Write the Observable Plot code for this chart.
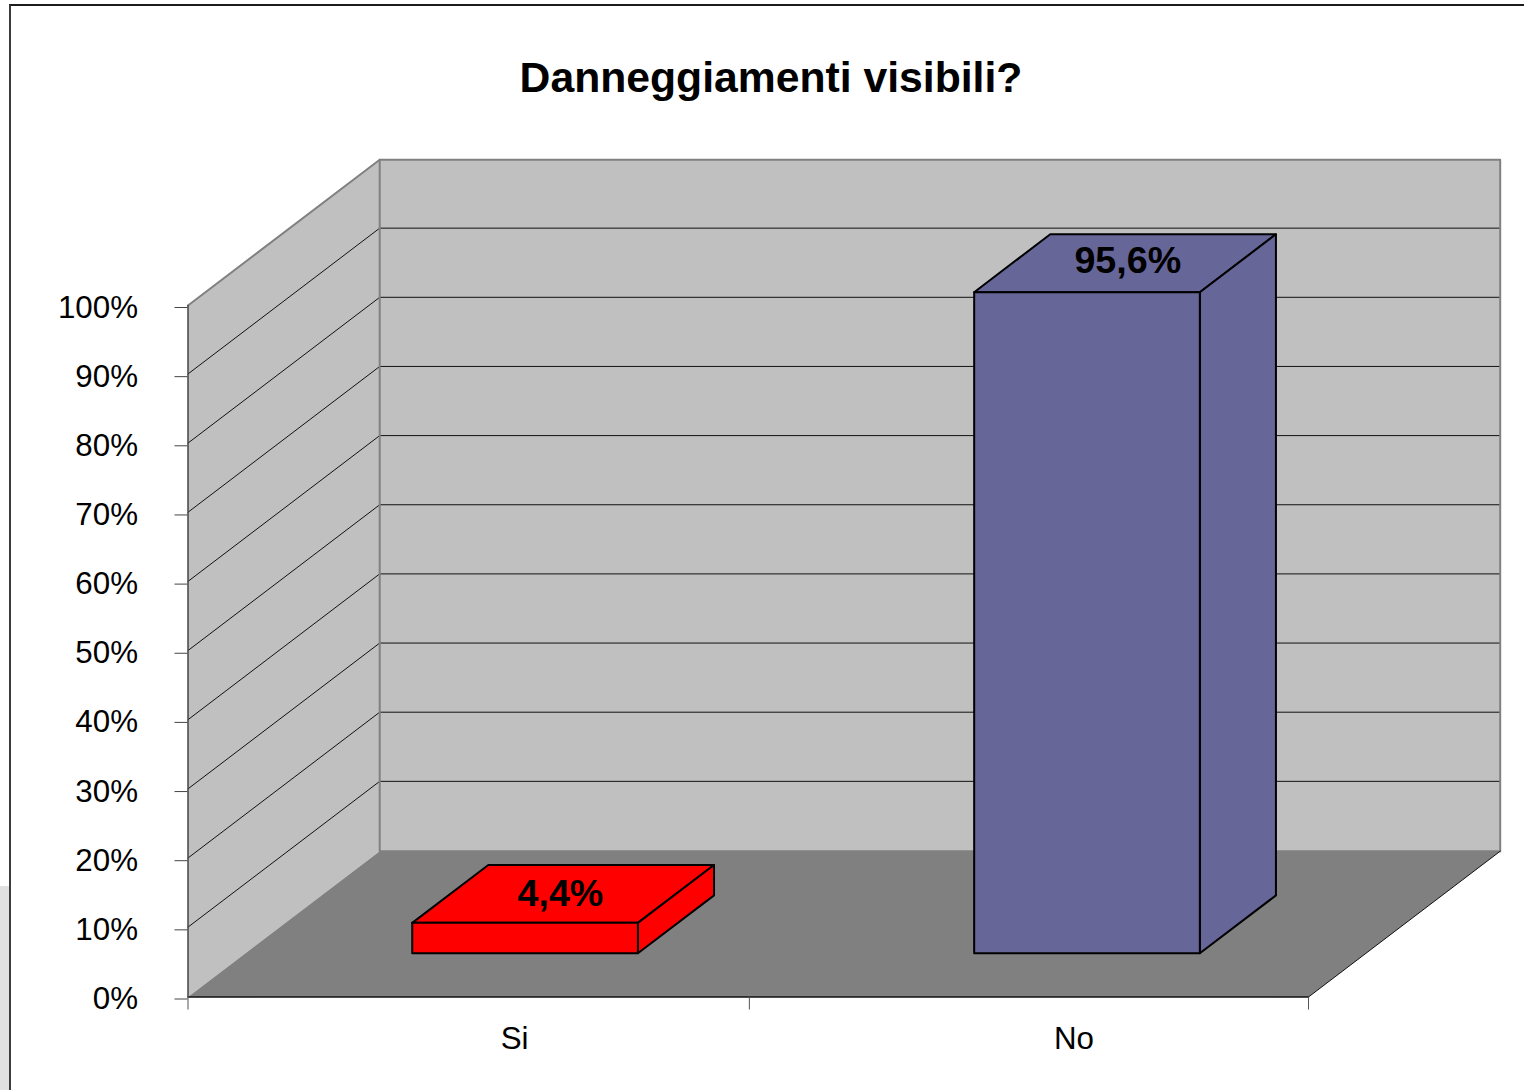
<!DOCTYPE html>
<html>
<head>
<meta charset="utf-8">
<script src="https://cdn.jsdelivr.net/npm/d3@7"></script>
<script src="https://cdn.jsdelivr.net/npm/@observablehq/plot@0.6"></script>
<style>
  html, body { margin: 0; padding: 0; background: #fff; }
  body { width: 1524px; height: 1090px; position: relative; overflow: hidden; font-family: "Liberation Sans", Arial, sans-serif; }
  #frame { position: absolute; left: 9px; top: 4px; width: 1600px; height: 1200px; border-left: 2px solid #3c3c3c; border-top: 2px solid #1c1c1c; }
  #side { position: absolute; left: 0; top: 886px; width: 9px; height: 204px; background: #e0e0e0; }
  #title { position: absolute; left: 0; width: 1542px; top: 50px; text-align: center; font-size: 42.7px; font-weight: bold; line-height: 54px; color: #000; }
  #chart { position: absolute; left: 0; top: 150px; }
  #chart svg { display: block; }
</style>
</head>
<body>
<div id="side"></div>
<div id="frame"></div>
<div id="title">Danneggiamenti visibili?</div>
<div id="chart"></div>
<script>
const categories = ["Si", "No"];
const categoryCenters = [0.499, 1.502];
const values = [4.4, 95.6];
const valueLabels = ["4,4%", "95,6%"];
const barColors = ["#ff0000", "#666699"];
const yTicks = [0, 10, 20, 30, 40, 50, 60, 70, 80, 90, 100];
const xTicks = [0, 1.002, 2];

// Oblique projection of the 3-D box: depth runs 0..1 from front to back wall.
const depthX = 191.7 / 560.25;   // category units per full depth
const depthY = 145.8 / 6.915;    // percent units per full depth
const barHalfWidth = 0.2014;
const barDepth = [0.3, 0.697];

const P = (c, v, d) => ({x: c + d * depthX, y: v + d * depthY});
const face = (pts, fill, stroke, strokeWidth) =>
  Plot.line(pts, {x: "x", y: "y", curve: "linear-closed", fill, stroke, strokeWidth, strokeLinejoin: "round"});
const path = (pts, stroke, strokeWidth, dy = 0) =>
  Plot.line(pts, {x: "x", y: "y", stroke, strokeWidth, dy});

const wallFill = "#c0c0c0", floorFill = "#808080", edge = "#808080";

const marks = [
  // side wall, back wall, floor
  face([P(0,0,0), P(0,100,0), P(0,100,1), P(0,0,1)], wallFill, "none", 0),
  face([P(0,0,1), P(0,100,1), P(2,100,1), P(2,0,1)], wallFill, "none", 0),
  face([P(0,0,0), P(2,0,0), P(2,0,1), P(0,0,1)], floorFill, "none", 0),
  // gridlines
  ...yTicks.slice(1, -1).map(v => path([P(0,v,0), P(0,v,1), P(2,v,1)], "#111", 1, -0.7)),
  // wall edges
  path([P(0,100,0), P(0,100,1), P(2,100,1), P(2,0,1)], edge, 2),
  path([P(0,100,1), P(0,0,1), P(2,0,1)], edge, 2),
  path([P(2,0,0), P(2,0,1)], "#111", 1),
  path([P(0,0,0), P(2,0,0)], "#111", 1.5),
  path([P(0,0,0), P(0,100,0)], "#444", 1.5),
  // bars
  ...values.flatMap((v, i) => {
    const l = categoryCenters[i] - barHalfWidth, r = categoryCenters[i] + barHalfWidth;
    const [a, b] = barDepth, col = barColors[i];
    return [
      face([P(l,v,a), P(r,v,a), P(r,v,b), P(l,v,b)], col, "#000", 2),
      face([P(r,0,a), P(r,v,a), P(r,v,b), P(r,0,b)], col, "#000", 2),
      face([P(l,0,a), P(r,0,a), P(r,v,a), P(l,v,a)], col, "#000", 2)
    ];
  }),
  // value labels, centred on each bar's top
  ...values.map((v, i) => Plot.text([{...P(categoryCenters[i], v, 0.5), t: valueLabels[i]}], {
    x: "x", y: "y", text: "t", fontSize: 37.7, fontWeight: "bold", fill: "#000", stroke: "none",
    dx: i === 0 ? -3 : 2.5, dy: i === 0 ? 0 : -2, textAnchor: "middle"
  })),
  // axes
  Plot.axisY({ticks: yTicks, tickSize: 13, tickPadding: 37, tickFormat: d => d + "%", fontSize: 31.3, stroke: "#444", fill: "#000", label: null, dy: 2}),
  Plot.axisX({ticks: xTicks, tickSize: 13, tickFormat: () => "", stroke: "#555", label: null}),
  ...categories.map((c, i) => Plot.axisX({ticks: [categoryCenters[i]], tickSize: 0, tickPadding: 0, tickFormat: () => c, fontSize: 31.3, label: null, dx: i === 0 ? 47 : 44.5, dy: 30, fill: "#000"}))
];

const chart = Plot.plot({
  width: 1524,
  height: 940,
  marginLeft: 187.5,
  marginRight: 216,
  marginTop: 155,
  marginBottom: 93.5,
  style: {background: "transparent", fontFamily: "'Liberation Sans', Arial, sans-serif", overflow: "visible"},
  x: {domain: [0, 2], label: null},
  y: {domain: [0, 100], label: null},
  marks
});
document.getElementById("chart").appendChild(chart);
</script>
</body>
</html>
